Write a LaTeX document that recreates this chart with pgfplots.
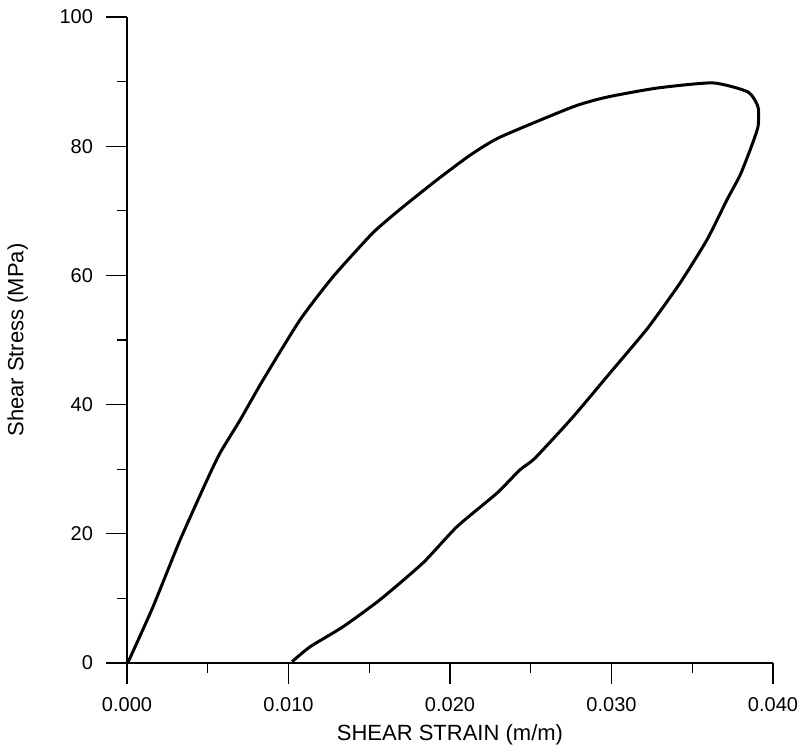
\documentclass[border=0pt]{standalone}
\usepackage{fontspec}
\setmainfont{Liberation Sans}
\usepackage{pgfplots}
\pgfplotsset{compat=1.18}

\begin{document}
\begin{tikzpicture}
\begin{axis}[
    at={(0,0)}, anchor=south west,
    scale only axis,
    width=323pt, height=323pt,
    xmin=0, xmax=0.040,
    ymin=0, ymax=100,
    axis lines=left,
    axis line style={-, line width=0.7pt},
    xtick={0,0.01,0.02,0.03,0.04},
    xticklabels={0.000,0.010,0.020,0.030,0.040},
    ytick={0,20,40,60,80,100},
    minor tick num=1,
    tick align=outside,
    major tick length=10.5pt,
    minor tick length=5pt,
    tick style={black, line width=0.6pt},
    scaled x ticks=false,
    /pgf/number format/assume math mode=true,
    ticklabel style={font=\fontsize{10}{12}\selectfont},
    xticklabel style={yshift=-3pt},
    yticklabel style={xshift=-3pt},
    xlabel={SHEAR STRAIN (m/m)},
    ylabel={Shear Stress (MPa)},
    ylabel shift=9pt,
    label style={font=\fontsize{11}{13}\selectfont},
    clip=false,
]
% loading branch, peak, then unloading back to zero stress
\addplot[black, line width=1.5pt, line join=round, smooth, tension=0.35] coordinates {
  (0.00000,0.0)
  (0.00019,0.8)
  (0.00161,8.7)
  (0.00328,19.0)
  (0.00495,28.3)
  (0.00576,32.5)
  (0.00700,37.6)
  (0.00842,43.8)
  (0.01071,53.1)
  (0.01276,59.8)
  (0.01523,66.6)
  (0.01709,70.6)
  (0.01920,74.8)
  (0.02124,78.6)
  (0.02310,81.4)
  (0.02762,86.1)
  (0.02972,87.6)
  (0.03282,89.0)
  (0.03628,89.8)
  (0.03845,88.4)
  (0.03907,86.1)
  (0.03907,83.0)
  (0.03858,79.4)
  (0.03796,75.5)
  (0.03715,71.7)
  (0.03591,65.5)
  (0.03424,58.8)
  (0.03226,51.9)
  (0.02991,44.9)
  (0.02762,38.1)
  (0.02526,31.7)
  (0.02433,29.9)
  (0.02291,26.3)
  (0.02043,21.1)
  (0.01833,15.5)
  (0.01567,9.8)
  (0.01337,5.6)
  (0.01133,2.5)
  (0.01022,0.2)
};
\end{axis}
\pgfresetboundingbox
\path[use as bounding box] (-63.5pt,-41pt) rectangle (336.5pt,331.5pt);
\end{tikzpicture}
\end{document}
